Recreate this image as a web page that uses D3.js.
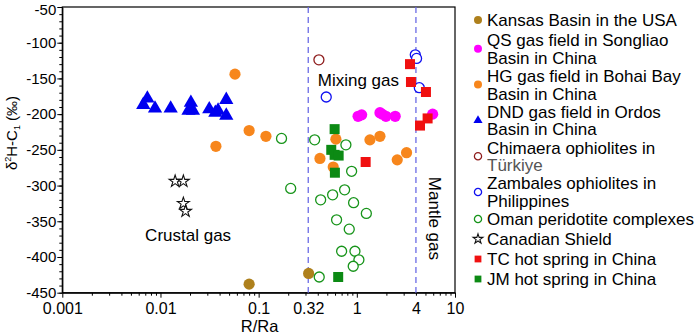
<!DOCTYPE html>
<html>
<head>
<meta charset="utf-8">
<script src="https://cdn.jsdelivr.net/npm/d3@7"></script>
<style>
  body { margin: 0; background: #fff; }
  svg { font-family: "Liberation Sans", Arial, sans-serif; }
</style>
</head>
<body>
<svg id="chart" width="700" height="334"></svg>
<script>
// R/Ra vs dD-CH4, one array per data source
var kansas = [[0.080, -438], [0.323, -423]];
var qsSongliao = [[1.03, -203], [1.12, -201], [1.72, -198], [1.81, -200], [1.98, -203], [2.46, -203], [5.92, -200]];
var hgBohai = [[0.0574, -144], [0.0367, -245], [0.080, -223], [0.1186, -231], [0.612, -235], [0.421, -262],
               [0.575, -274], [1.36, -236], [1.72, -231], [2.58, -264], [3.21, -254]];
var dndOrdos = [[0.00668, -187], [0.00735, -178], [0.0088, -192], [0.0127, -192], [0.0204, -184], [0.0193, -195],
                [0.0214, -195], [0.0314, -193], [0.0362, -198], [0.0386, -195], [0.0468, -180], [0.0468, -202]];
var chimaera = [[0.411, -124]];
var zambales = [[3.94, -117], [4.06, -122], [4.33, -163], [0.488, -176]];
var oman = [[0.171, -234], [0.212, -304], [0.372, -236], [0.774, -243], [0.885, -280], [0.428, -320],
            [0.567, -313], [0.751, -306], [0.927, -324], [1.25, -339], [0.622, -348], [0.837, -361],
            [0.70, -392], [0.957, -392], [1.05, -404], [0.919, -413], [0.414, -428]];
var canadian = [[0.0141, -294], [0.0171, -294], [0.0171, -325], [0.018, -336]];
var tcSpring = [[3.48, -130], [3.56, -155], [5.06, -169], [5.26, -206], [4.40, -216], [1.23, -267]];
var jmSpring = [[0.594, -221], [0.549, -250], [0.594, -257], [0.653, -258], [0.598, -282], [0.646, -428]];

var xTickValues = [0.001, 0.01, 0.1, 0.32, 1, 4, 10];
var xTickLabels = ["0.001", "0.01", "0.1", "0.32", "1", "4", "10"];
var yTickValues = [-50, -100, -150, -200, -250, -300, -350, -400, -450];
var boundaries = [0.32, 4];

var series = [
  {name: ["Kansas Basin in the USA"], data: kansas, shape: "circle", color: "#ae801c", fill: true},
  {name: ["QS gas field in Songliao", "Basin in China"], data: qsSongliao, shape: "circle", color: "#ff00ff", fill: true},
  {name: ["HG gas field in Bohai Bay", "Basin in China"], data: hgBohai, shape: "circle", color: "#f7861c", fill: true},
  {name: ["DND gas field in Ordos", "Basin in China"], data: dndOrdos, shape: "triangle", color: "#0000f0", fill: true},
  {name: ["Chimaera ophiolites in", "Türkiye"], data: chimaera, shape: "circle", color: "#8e1c1c", fill: false},
  {name: ["Zambales ophiolites in", "Philippines"], data: zambales, shape: "circle", color: "#1010f0", fill: false},
  {name: ["Oman peridotite complexes"], data: oman, shape: "circle", color: "#17941a", fill: false},
  {name: ["Canadian Shield"], data: canadian, shape: "star", color: "#111", fill: false},
  {name: ["TC hot spring in China"], data: tcSpring, shape: "square", color: "#f01010", fill: true},
  {name: ["JM hot spring in China"], data: jmSpring, shape: "square", color: "#0c8a14", fill: true}
];

var margin = {left: 62.3, top: 7, right: 245, bottom: 41.3};
var width = 700 - margin.left - margin.right,
    height = 334 - margin.top - margin.bottom;

var x = d3.scaleLog().domain([0.001, 10]).range([0, width]);
var y = d3.scaleLinear().domain([-450, -50]).range([height, 0]);

var svg = d3.select("#chart");
var g = svg.append("g")
           .attr("transform", "translate(" + margin.left + "," + margin.top + ")");

// frame
g.append("rect")
 .attr("width", width)
 .attr("height", height)
 .attr("fill", "none")
 .attr("stroke", "#000")
 .attr("stroke-width", 1.2);

// minor ticks
var xMinor = [];
[0.001, 0.01, 0.1, 1].forEach(function(dec) {
  for (var k = 2; k <= 9; k++) xMinor.push(dec * k);
});
g.append("g")
 .attr("transform", "translate(0," + height + ")")
 .call(d3.axisBottom(x).tickValues(xMinor).tickSize(3).tickFormat(""))
 .call(function(a) { a.select(".domain").remove(); });

g.append("g")
 .call(d3.axisLeft(y).tickValues(d3.range(-450, -49, 10)).tickSize(3).tickFormat(""))
 .call(function(a) { a.select(".domain").remove(); });

// major axes
var xAxis = g.append("g")
 .attr("transform", "translate(0," + height + ")")
 .call(d3.axisBottom(x)
         .tickValues(xTickValues)
         .tickSize(5)
         .tickSizeOuter(0)
         .tickPadding(4.5)
         .tickFormat(function(d, i) { return xTickLabels[i]; }));
xAxis.selectAll("text").attr("font-size", 16).attr("fill", "#000")
     .attr("font-family", "Liberation Sans, Arial, sans-serif");
xAxis.selectAll(".tick line").filter(function(d) { return d === 0.32 || d === 4; }).remove();

var yAxis = g.append("g")
 .call(d3.axisLeft(y)
         .tickValues(yTickValues)
         .tickSize(5)
         .tickSizeOuter(0)
         .tickPadding(1)
         .tickFormat(d3.format("d")));
yAxis.selectAll("text").attr("font-size", 15).attr("fill", "#000")
     .attr("font-family", "Liberation Sans, Arial, sans-serif")
     .attr("dy", function(d) { return d === -50 ? "0.5em" : "0.32em"; })
     .text(function(d) { return String(d); });

svg.selectAll(".domain").attr("stroke-width", 1.2);

// boundary lines
g.selectAll(".boundary")
 .data(boundaries)
 .enter().append("line")
 .attr("class", "boundary")
 .attr("x1", function(d) { return x(d); })
 .attr("x2", function(d) { return x(d); })
 .attr("y1", 0)
 .attr("y2", height)
 .attr("stroke", "#6b6be6")
 .attr("stroke-width", 1.3)
 .attr("stroke-dasharray", "6,4");

// axis titles
svg.append("text")
   .attr("x", margin.left + width / 2 + 1)
   .attr("y", 332)
   .attr("text-anchor", "middle")
   .attr("font-size", 16.5)
   .text("R/Ra");

var yTitle = svg.append("text")
   .attr("transform", "translate(17," + 133 + ") rotate(-90)")
   .attr("text-anchor", "middle")
   .attr("font-size", 15);
yTitle.append("tspan").text("δ");
yTitle.append("tspan").attr("font-size", 9).attr("dy", -6).text("2");
yTitle.append("tspan").attr("dy", 6).text("H-C");
yTitle.append("tspan").attr("font-size", 9).attr("dy", 3).text("1");
yTitle.append("tspan").attr("dy", -3).text(" (‰)");

// region labels
g.append("text").attr("x", x(0.0141) - 30).attr("y", y(-378)).attr("font-size", 17).text("Crustal gas");
g.append("text").attr("x", x(0.4)).attr("y", y(-161)).attr("font-size", 17).text("Mixing gas");
g.append("text")
 .attr("transform", "translate(" + (x(5.45)) + "," + y(-346) + ") rotate(90)")
 .attr("text-anchor", "middle")
 .attr("font-size", 17)
 .text("Mantle gas");

function symbolFor(shape, big) {
  if (shape === "triangle") return d3.symbol().type(d3.symbolTriangle).size(big ? 88 : 36);
  if (shape === "square") return d3.symbol().type(d3.symbolSquare).size(big ? 100 : 46);
  if (shape === "star") return d3.symbol().type(d3.symbolStar).size(big ? 44 : 30);
  return d3.symbol().type(d3.symbolCircle).size(big ? 100 : 40);
}

function drawMarks(sel, s, big) {
  sel.append("path")
     .attr("d", symbolFor(s.shape, big)())
     .attr("fill", s.shape === "star" ? "#fff" : (s.fill ? s.color : "#fff"))
     .attr("stroke", s.fill ? "none" : s.color)
     .attr("stroke-width", s.shape === "star" ? 1.1 : 1.4);
}

// points
series.forEach(function(s) {
  var pts = g.append("g").selectAll("g")
             .data(s.data)
             .enter().append("g")
             .attr("transform", function(d) { return "translate(" + x(d[0]) + "," + y(d[1]) + ")"; });
  pts.each(function() {
    var p = d3.select(this);
    if (!s.fill && s.shape === "circle") {
      p.append("circle").attr("r", 5).attr("fill", "#fff")
       .attr("stroke", s.color).attr("stroke-width", 1.3);
    } else if (s.shape === "circle") {
      p.append("circle").attr("r", 5.6).attr("fill", s.color);
    } else {
      drawMarks(p, s, true);
    }
  });
});

// legend
var legend = svg.append("g").attr("transform", "translate(478,0)");
var ly = 20;
series.forEach(function(s) {
  var lines = s.name;
  var my = ly + (lines.length - 1) * 17.6 / 2;
  var m = legend.append("g").attr("transform", "translate(0," + my + ")");
  if (s.shape === "circle") {
    m.append("circle").attr("r", s.fill ? 4 : 3.6)
     .attr("fill", s.fill ? s.color : "#fff")
     .attr("stroke", s.fill ? "none" : s.color)
     .attr("stroke-width", 1.3);
  } else {
    drawMarks(m, s, false);
  }
  lines.forEach(function(t, i) {
    legend.append("text")
          .attr("x", 9)
          .attr("y", ly + i * 17.6)
          .attr("dy", "0.36em")
          .attr("font-size", 17)
          .attr("fill", (s.name[0].indexOf("Chimaera") === 0 && i === 1) ? "#555" : "#000")
          .text(t);
  });
  ly += (lines.length - 1) * 17.6 + (lines.length > 1 ? 18.2 : 20);
});
</script>
</body>
</html>
